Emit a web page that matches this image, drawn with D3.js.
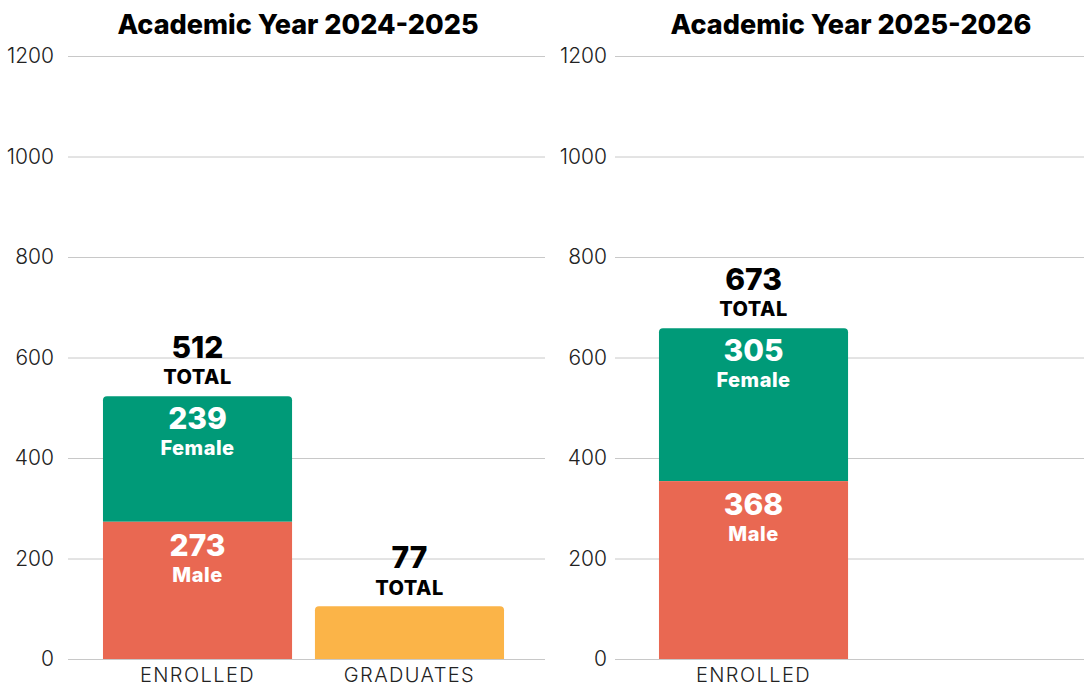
<!DOCTYPE html>
<html>
<head>
<meta charset="utf-8">
<script src="https://cdn.jsdelivr.net/npm/d3@7"></script>
<style>
    body { margin: 0; background: #fff; }
    .tick line { stroke: #c8c8c8; }
    .tick text { font-family: Inter, sans-serif; font-weight: 300; font-size: 21px; fill: #222; }
    .title { font-family: Inter, sans-serif; font-weight: 800; font-size: 27px; fill: #000; }
    .cat-label { font-family: Inter, sans-serif; font-weight: 300; font-size: 20px; letter-spacing: 1.4px; fill: #222; }
    .big-num { font-family: Inter, sans-serif; font-weight: 800; font-size: 30px; }
    .small-lbl { font-family: Inter, sans-serif; font-weight: 800; font-size: 20px; letter-spacing: 0.5px; }
</style>
</head>
<body>
<div id="chart"></div>
<script>

// chart data
var years = ["Academic Year 2024-2025", "Academic Year 2025-2026"];
var categories = ["ENROLLED", "GRADUATES"];
var yTicks = [0, 200, 400, 600, 800, 1000, 1200];

// bar heights as drawn in the picture
var maleValues = [273, 354];
var femaleValues = [250, 304];
var graduateValues = [105, null];

// printed labels
var maleLabels = ["273", "368"];
var femaleLabels = ["239", "305"];
var totalLabels = ["512", "673"];
var graduateLabels = ["77", null];

var colors = { male: "#e96852", female: "#009a78", grad: "#fbb448" };

var svg = d3.select("#chart").append("svg")
    .attr("width", 1084)
    .attr("height", 686);

var y = d3.scaleLinear()
    .domain([0, 1200])
    .range([659, 56]);

// panel placement
var panels = [
    { gridX: [68, 545], band: [68, 539], pad: 14, titleX: 298 },
    { gridX: [615, 1084], band: [624, 1095], pad: 8, titleX: 851 }
];

// bar with rounded top corners only
function topRoundBar(x, y0, w, h, r) {
    r = Math.min(r, h);
    return "M" + x + "," + (y0 + h) +
        "V" + (y0 + r) +
        "Q" + x + "," + y0 + " " + (x + r) + "," + y0 +
        "H" + (x + w - r) +
        "Q" + (x + w) + "," + y0 + " " + (x + w) + "," + (y0 + r) +
        "V" + (y0 + h) + "Z";
}

years.forEach(function(year, i) {
    var p = panels[i];
    var g = svg.append("g");

    var x = d3.scaleBand()
        .domain(categories)
        .range(p.band)
        .paddingInner(0.108)
        .paddingOuter(0.165);

    var yAxis = d3.axisLeft(y)
        .tickValues(yTicks)
        .tickFormat(d3.format("d"))
        .tickSize(-(p.gridX[1] - p.gridX[0]))
        .tickPadding(p.pad);

    g.append("g")
        .attr("class", "y-axis")
        .attr("transform", "translate(" + p.gridX[0] + ",0)")
        .call(yAxis)
        .call(function(a) { a.select(".domain").remove(); });

    g.append("text")
        .attr("class", "title")
        .attr("x", p.titleX)
        .attr("y", 34)
        .attr("text-anchor", "middle")
        .text(year);

    // enrolled stack
    var bx = x("ENROLLED"), bw = x.bandwidth();
    var male = maleValues[i], female = femaleValues[i];
    var yMale = y(male), yTop = y(male + female);

    g.append("path")
        .attr("d", topRoundBar(bx, yTop, bw, yMale - yTop, 4))
        .attr("fill", colors.female);
    g.append("rect")
        .attr("x", bx).attr("y", yMale)
        .attr("width", bw).attr("height", y(0) - yMale)
        .attr("fill", colors.male);

    var cx = bx + bw / 2;
    var labels = [
        { t: totalLabels[i], y: yTop - 38, c: "big-num", f: "#000" },
        { t: "TOTAL", y: yTop - 12, c: "small-lbl", f: "#000" },
        { t: femaleLabels[i], y: yTop + 33, c: "big-num", f: "#fff" },
        { t: "Female", y: yTop + 59, c: "small-lbl", f: "#fff" },
        { t: maleLabels[i], y: yMale + 34, c: "big-num", f: "#fff" },
        { t: "Male", y: yMale + 60, c: "small-lbl", f: "#fff" }
    ];

    // graduates bar
    if (graduateValues[i] != null) {
        var gx = x("GRADUATES"), yG = y(graduateValues[i]);
        g.append("path")
            .attr("d", topRoundBar(gx, yG, bw, y(0) - yG, 4))
            .attr("fill", colors.grad);
        labels.push({ t: graduateLabels[i], y: yG - 38, c: "big-num", f: "#000", x: gx + bw / 2 });
        labels.push({ t: "TOTAL", y: yG - 11, c: "small-lbl", f: "#000", x: gx + bw / 2 });
    }

    g.selectAll(".bar-label")
        .data(labels)
        .enter().append("text")
        .attr("class", function(d) { return "bar-label " + d.c; })
        .attr("x", function(d) { return d.x != null ? d.x : cx; })
        .attr("y", function(d) { return d.y; })
        .attr("text-anchor", "middle")
        .attr("fill", function(d) { return d.f; })
        .text(function(d) { return d.t; });

    // category labels
    var shown = graduateValues[i] != null ? categories : ["ENROLLED"];
    g.selectAll(".cat-label")
        .data(shown)
        .enter().append("text")
        .attr("class", "cat-label")
        .attr("x", function(d) { return x(d) + x.bandwidth() / 2; })
        .attr("y", 682)
        .attr("text-anchor", "middle")
        .text(function(d) { return d; });
});

</script>
</body>
</html>
